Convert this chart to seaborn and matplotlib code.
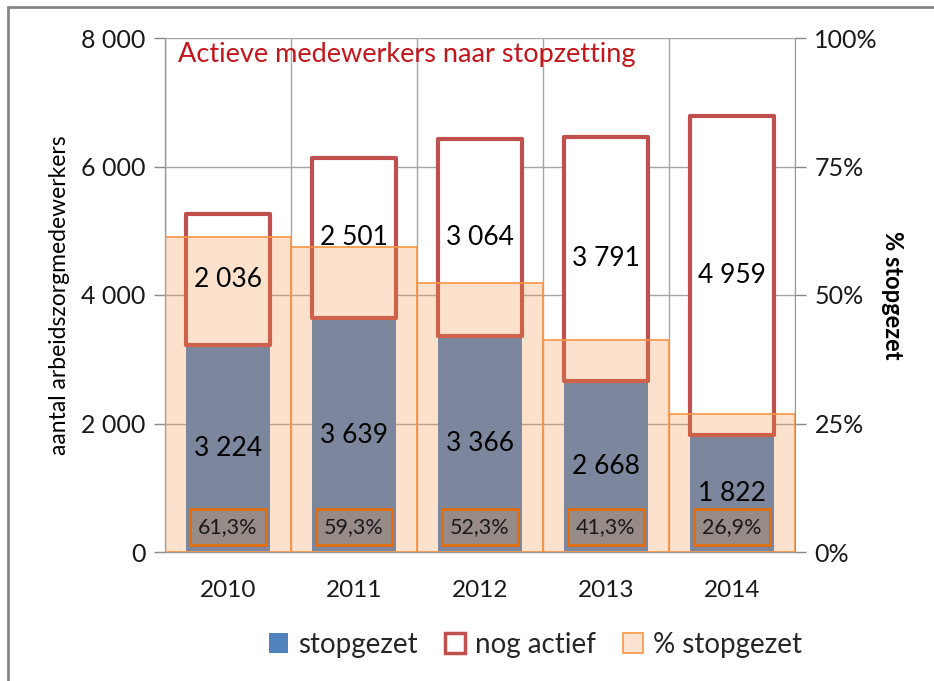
import matplotlib
matplotlib.use("Agg")
import matplotlib.pyplot as plt
import seaborn as sns
import pandas as pd
from matplotlib.patches import Patch
from matplotlib.lines import Line2D
from matplotlib.ticker import FuncFormatter, FixedLocator

# ---- data ----
years = ["2010", "2011", "2012", "2013", "2014"]
stopgezet = [3224, 3639, 3366, 2668, 1822]
nog_actief = [2036, 2501, 3064, 3791, 4959]
pct_stopgezet = [61.3, 59.3, 52.3, 41.3, 26.9]
left_ticks = [0, 2000, 4000, 6000, 8000]
right_ticks = [0, 25, 50, 75, 100]
title = "Actieve medewerkers naar stopzetting"
ylabel_left = "aantal arbeidszorgmedewerkers"
ylabel_right = "% stopgezet"
legend_labels = ["stopgezet", "nog actief", "% stopgezet"]

df = pd.DataFrame({"jaar": years, "stopgezet": stopgezet,
                   "nog_actief": nog_actief, "pct": pct_stopgezet})

sns.set_style("white")
plt.rcParams["font.family"] = ["Lato", "DejaVu Sans"]

BLUE = "#4F81BD"
RED = "#C0504D"
ORANGE = "#F79646"
ORANGE_DARK = "#E46C0A"
GRID = "#A6A6A6"

fig = plt.figure(figsize=(9.34, 6.81), dpi=100)
ax = fig.add_axes([165 / 934, 1 - 552 / 681, 630 / 934, 514 / 681])

# stopgezet bars
sns.barplot(data=df, x="jaar", y="stopgezet", color=BLUE, width=0.66,
            saturation=1, ax=ax, zorder=2, linewidth=0)
n_stop = len(ax.patches)
# nog actief stacked on top (white fill, red edge)
sns.barplot(data=df, x="jaar", y="nog_actief", color="white", width=0.66,
            saturation=1, ax=ax, zorder=3, bottom=df["stopgezet"].to_numpy())
for p in ax.patches[n_stop:]:
    p.set_facecolor("white")
    p.set_edgecolor(RED)
    p.set_linewidth(3)
    p.set_joinstyle("round")

ax.set_xlim(-0.5, len(years) - 0.5)
ax.set_ylim(0, 8000)
ax.yaxis.set_major_locator(FixedLocator(left_ticks))
ax.yaxis.set_major_formatter(FuncFormatter(lambda v, _: f"{int(v):,}".replace(",", " ")))
ax.set_xticks(range(len(years)))
ax.set_xticklabels(years)
ax.set_xticks([i - 0.5 for i in range(len(years) + 1)], minor=True)
ax.grid(True, axis="y", which="major", color=GRID, lw=1, zorder=0)
ax.grid(True, axis="x", which="minor", color=GRID, lw=1, zorder=0)
ax.grid(False, axis="x", which="major")
ax.set_axisbelow(True)
ax.set_xlabel("")
ax.set_ylabel(ylabel_left, fontsize=16.5, color="black", labelpad=8)
ax.tick_params(axis="y", which="major", length=8, width=1, color="#888888",
               labelsize=18, labelcolor="#1a1a1a", direction="out", pad=6, left=True)
ax.tick_params(axis="x", which="both", length=0, labelsize=17.5,
               labelcolor="#1a1a1a", pad=20)
for s in ["top", "right"]:
    ax.spines[s].set_visible(False)
for s in ["left", "bottom"]:
    ax.spines[s].set_color("#999999")
    ax.spines[s].set_linewidth(1)

# secondary axis: percentage bars
ax2 = ax.twinx()
sns.barplot(data=df, x="jaar", y="pct", color=ORANGE, width=1.0,
            saturation=1, ax=ax2, zorder=2)
for p in ax2.patches:
    p.set_facecolor((247 / 255, 150 / 255, 70 / 255, 0.27))
    p.set_edgecolor(ORANGE)
    p.set_linewidth(1.2)
ax2.set_xlim(-0.5, len(years) - 0.5)
ax2.set_ylim(0, 100)
ax2.yaxis.set_major_locator(FixedLocator(right_ticks))
ax2.yaxis.set_major_formatter(FuncFormatter(lambda v, _: f"{int(v)}%"))
ax2.set_xlabel("")
ax2.set_ylabel(ylabel_right, fontsize=17, fontweight="bold", rotation=270,
               labelpad=19, color="black")
ax2.tick_params(axis="y", length=8, width=1, color="#888888", labelsize=18,
                labelcolor="#1a1a1a", direction="out", pad=6, right=True)
for s in ["top", "left", "bottom"]:
    ax2.spines[s].set_visible(False)
ax2.spines["right"].set_color("#999999")
ax2.grid(False)

# value labels (drawn on top axis using primary data coords)
for i, (s, a, pc) in enumerate(zip(stopgezet, nog_actief, pct_stopgezet)):
    ax2.text(i, s / 2, f"{s:,}".replace(",", " "), transform=ax.transData,
             ha="center", va="center", fontsize=19, color="black", zorder=6)
    ax2.text(i, s + a / 2, f"{a:,}".replace(",", " "), transform=ax.transData,
             ha="center", va="center", fontsize=19, color="black", zorder=6)
    ax2.text(i, 4.9, f"{pc:.1f}%".replace(".", ","), ha="center", va="center",
             fontsize=15.5, color="#1a1a1a", zorder=7,
             bbox=dict(boxstyle="square,pad=0.38", facecolor="#978B88",
                       edgecolor=ORANGE_DARK, linewidth=2))

# title inside plot area
ax2.text(0.02, 0.967, title, transform=ax.transAxes, ha="left", va="center",
         fontsize=19.5, color="#C3161C", zorder=8)

# legend
handles = [
    Patch(facecolor=BLUE, edgecolor=BLUE, linewidth=0),
    Patch(facecolor="white", edgecolor=RED, linewidth=2.5),
    Patch(facecolor="#FDE4D2", edgecolor=ORANGE, linewidth=1.2),
]
fig.legend(handles, legend_labels, loc="center", bbox_to_anchor=(0.573, 0.053),
           ncol=3, frameon=False, fontsize=20, handlelength=0.7,
           handleheight=0.7, handletextpad=0.35, columnspacing=1.0)

# outer border (grey frame top/left)
fig.add_artist(Line2D([8 / 934, 8 / 934], [0, 1 - 7 / 681], transform=fig.transFigure,
                      color="#868686", lw=2))
fig.add_artist(Line2D([8 / 934, 1], [1 - 7 / 681, 1 - 7 / 681], transform=fig.transFigure,
                      color="#868686", lw=2))

fig.savefig("out.png", dpi=100, facecolor="white")
